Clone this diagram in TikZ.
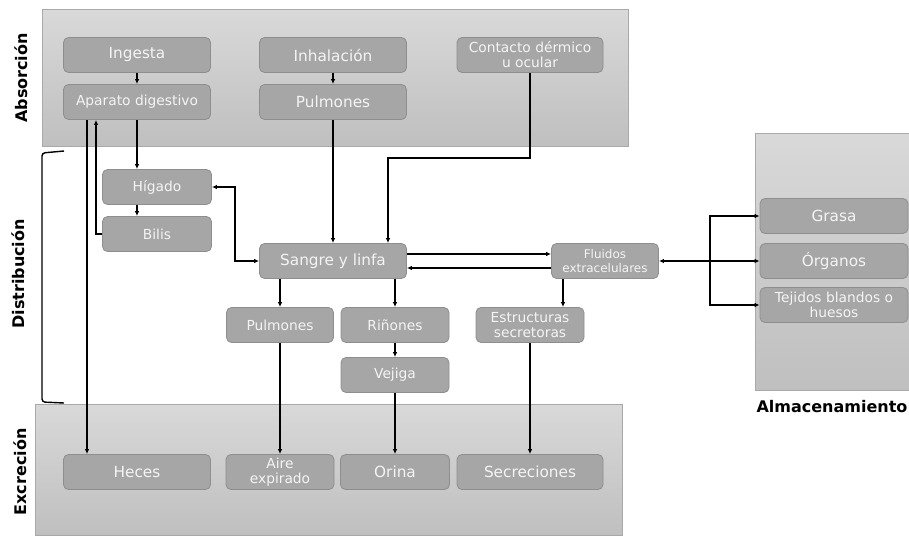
\documentclass[tikz,border=0pt]{standalone}
\usepackage{fontspec}
\setmainfont{DejaVu Sans}
\usetikzlibrary{arrows.meta}
\definecolor{boxfill}{HTML}{A6A6A6}
\definecolor{boxline}{HTML}{8E8E8E}
\definecolor{boxtext}{HTML}{F4F4F4}
\definecolor{panelline}{HTML}{A9A9A9}
\newcommand{\bigtxt}{\fontsize{15.3}{17}\selectfont}
\newcommand{\medtxt}{\fontsize{13.8}{15}\selectfont}
\newcommand{\smltxt}{\fontsize{12}{13.5}\selectfont}
\newcommand{\lbltxt}{\fontsize{16}{18}\selectfont\bfseries}
\tikzset{
  panel/.style={draw=panelline,line width=1pt,top color=black!15,bottom color=black!25},
  stagebox/.style={rectangle,rounded corners=5pt,draw=boxline,line width=0.8pt,
    fill=boxfill,text=boxtext,align=center,inner sep=1pt,minimum height=35pt},
  arr/.style={-{Latex[length=5pt,width=4.5pt]},line width=1.5pt},
  arrboth/.style={{Latex[length=5pt,width=4.5pt]}-{Latex[length=5pt,width=4.5pt]},line width=1.5pt}
}
\begin{document}
\begin{tikzpicture}[x=1pt,y=-1pt]
    \useasboundingbox (0,0) rectangle (909,535);
    % panels
    \path[panel] (42,10) rectangle (628,146);
    \path[panel] (35,404) rectangle (622,535);
    \path[panel] (755,133) rectangle (909,390);
    \draw[line width=1.4pt,rounded corners=3pt] (64,151) -- (42,153) -- (42,402) -- (64,403);
    % stage labels
    \node[rotate=90,font=\lbltxt] (labA) at (21,78) {Absorción};
    \node[rotate=90,font=\lbltxt] (labD) at (18,274) {Distribución};
    \node[rotate=90,font=\lbltxt] (labE) at (20,472) {Excreción};
    \node[font=\lbltxt] (labS) at (832,407) {Almacenamiento};
    \begin{scope}[every node/.style={stagebox}]
    \node[minimum width=147pt,font=\bigtxt] (ing) at (137,55) {Ingesta};
    \node[minimum width=147pt,font=\medtxt] (dig) at (137,102) {Aparato digestivo};
    \node[minimum width=147pt,font=\bigtxt] (inh) at (333,55) {Inhalación};
    \node[minimum width=147pt,font=\bigtxt] (pulA) at (333,102) {Pulmones};
    \node[minimum width=146pt,font=\medtxt] (con) at (530,55) {Contacto dérmico\\u ocular};
    \node[minimum width=109pt,font=\medtxt] (hig) at (157,187) {Hígado};
    \node[minimum width=109pt,font=\medtxt] (bil) at (157,234) {Bilis};
    \node[minimum width=147pt,font=\bigtxt] (san) at (333,261) {Sangre y linfa};
    \node[minimum width=107pt,font=\smltxt] (flu) at (605,261) {Fluidos\\extracelulares};
    \node[minimum width=107pt,font=\medtxt] (pulB) at (280,325) {Pulmones};
    \node[minimum width=108pt,font=\medtxt] (rin) at (395,325) {Riñones};
    \node[minimum width=108pt,font=\medtxt] (est) at (530,325) {Estructuras\\secretoras};
    \node[minimum width=108pt,font=\medtxt] (vej) at (395,375) {Vejiga};
    \node[minimum width=148pt,font=\bigtxt] (gra) at (834,216) {Grasa};
    \node[minimum width=148pt,font=\bigtxt] (org) at (834,261) {Órganos};
    \node[minimum width=148pt,font=\medtxt] (tej) at (834,305) {Tejidos blandos o\\huesos};
    \node[minimum width=147pt,font=\bigtxt] (hec) at (137,472) {Heces};
    \node[minimum width=108pt,font=\medtxt] (air) at (280,472) {Aire\\expirado};
    \node[minimum width=109pt,font=\bigtxt] (ori) at (395,472) {Orina};
    \node[minimum width=146pt,font=\bigtxt] (sec) at (530,472) {Secreciones};
    \end{scope}
    \coordinate (hub) at (710,261);
    \coordinate (flB) at ([xshift=-42pt]flu.south);
    \coordinate (hgB) at ([xshift=-20pt]hig.south);
    % connectors
    \draw[arr] (ing) -- (dig);
    \draw[arr] (inh) -- (pulA);
    \draw[arr] (dig.south) -- (dig.south |- hig.north);
    \draw[arr] (hgB) -- (hgB |- bil.north);
    \draw[arr] (bil.west) -| ([xshift=-41pt]dig.south);
    \draw[arr] ([xshift=-50pt]dig.south) -- ([xshift=-50pt]hec.north);
    \draw[arrboth] (hig.east) -- ++(23,0) |- (san.west);
    \draw[arr] (pulA) -- (san);
    \draw[arr] (con.south) -- ++(0,85) -| ([xshift=55pt]san.north);
    \draw[arr] ([yshift=7pt]san.east) -- ([yshift=7pt]flu.west);
    \draw[arr] ([yshift=-7pt]flu.west) -- ([yshift=-7pt]san.east);
    \draw[arr] (flB) -- (flB |- est.north);
    \draw[arrboth] (flu.east) -- (org.west);
    \draw[arr] (hub) |- (gra.west);
    \draw[arr] (hub) |- (tej.west);
    \draw[arr] (pulB.north |- san.south) -- (pulB.north);
    \draw[arr] (rin.north |- san.south) -- (rin.north);
    \draw[arr] (rin) -- (vej);
    \draw[arr] (pulB) -- (air);
    \draw[arr] (vej) -- (ori);
    \draw[arr] (est) -- (sec);
\end{tikzpicture}
\end{document}
